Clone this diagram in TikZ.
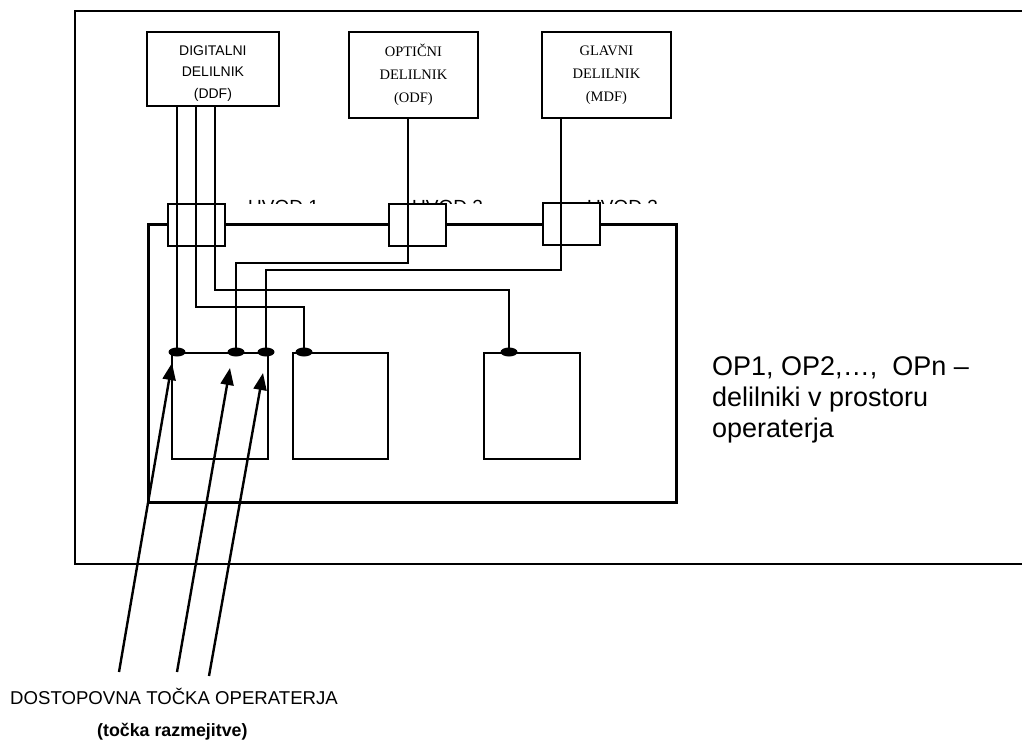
\documentclass[tikz,border=0pt]{standalone}
\usepackage{fontspec}
\setmainfont{Liberation Sans}
\newfontfamily\tnr{Liberation Serif}
\usetikzlibrary{arrows.meta,shapes.geometric}
\begin{document}
\begin{tikzpicture}[x=1pt,y=-1pt,
  topbox/.style={draw, line width=1.8pt, inner sep=0pt, align=center, anchor=north west},
  uvodbox/.style={draw, fill=white, line width=1.6pt, minimum width=57pt, minimum height=42pt, inner sep=0pt, anchor=north west},
  opbox/.style={draw, line width=1.8pt, minimum width=96pt, minimum height=106pt, anchor=north west, inner sep=0pt},
  wire/.style={line width=1.5pt},
  jdot/.style={ellipse, fill=black, minimum width=17pt, minimum height=9pt, inner sep=0pt},
  pointer/.style={line width=2.4pt, -{Triangle[length=17pt,width=13pt]}},
  lbl/.style={inner sep=0pt, font=\fontsize{19}{22}\selectfont}]
\useasboundingbox (0,0) rectangle (1022,742);
% outer frame
\draw[line width=2pt] (1022,11) -- (75,11) -- (75,564) -- (1022,564);
% top boxes
\node[topbox, minimum width=132pt, minimum height=74pt, font=\fontsize{14}{21.5}\selectfont] (ddf) at (146,31) {\rule{0pt}{19pt}DIGITALNI\\DELILNIK\\(DDF)};
\node[topbox, minimum width=129pt, minimum height=86pt, font=\tnr\fontsize{14.5}{23}\selectfont] (odf) at (348,31) {OPTIČNI\\DELILNIK\\(ODF)};
\node[topbox, minimum width=129pt, minimum height=86pt, font=\tnr\fontsize{14.5}{23}\selectfont] (mdf) at (541,31) {GLAVNI\\DELILNIK\\(MDF)};
% clipped UVOD labels
\begin{scope}
\clip (240,190) rectangle (680,203);
\node[lbl, anchor=base west] (l1) at (248,213) {UVOD 1};
\node[lbl, anchor=base west] (l2) at (412,213) {UVOD 2};
\node[lbl, anchor=base west] (l3) at (587,213) {UVOD 3};
\end{scope}
% operator room
\node[draw, line width=3.4pt, minimum width=528pt, minimum height=278pt, inner sep=0pt, anchor=north west] (room) at (147,223) {};
\node[uvodbox] (u1) at (167,203) {};
\node[uvodbox] (u2) at (388,203) {};
\node[uvodbox] (u3) at (542,202) {};
% operator distribution frames
\node[opbox] (op1) at (171,352) {};
\node[opbox, minimum width=95pt] (op2) at (292,352) {};
\node[opbox] (op3) at (483,352) {};
% junction points
\coordinate (p1) at (177,352);
\coordinate (p2) at (236,352);
\coordinate (p3) at (266,352);
\coordinate (p4) at (304,352);
\coordinate (p5) at (509,352);
% wires
\draw[wire] ([xshift=31pt]ddf.south west) -- (p1);
\draw[wire] ([xshift=50pt]ddf.south west) |- ([yshift=45pt]p4) -- (p4);
\draw[wire] ([xshift=69pt]ddf.south west) |- ([yshift=62pt]p5) -- (p5);
\draw[wire] ([xshift=60pt]odf.south west) |- ([yshift=89pt]p2) -- (p2);
\draw[wire] ([xshift=20pt]mdf.south west) |- ([yshift=82pt]p3) -- (p3);
\foreach \p in {p1,p2,p3,p4,p5} \node[jdot] (d\p) at (\p) {};
% right description
\node[anchor=north west, inner sep=0pt, align=left, font=\fontsize{27}{31}\selectfont] (desc) at (712,356) {OP1, OP2,…,\ \ OPn –\\delilniki v prostoru\\operaterja};
% access point arrows
\coordinate (t1) at (119,672);
\coordinate (t2) at (177,672);
\coordinate (t3) at (209,676);
\coordinate (h1) at (172,363);
\coordinate (h2) at (230,368);
\coordinate (h3) at (263,373);
\draw[pointer] (t1) -- (h1);
\draw[pointer] (t2) -- (h2);
\draw[pointer] (t3) -- (h3);
\node[anchor=base west, inner sep=0pt, font=\fontsize{18.6}{22}\selectfont] (acc) at (10,704) {DOSTOPOVNA TOČKA OPERATERJA};
\node[anchor=base west, inner sep=0pt, font=\bfseries\fontsize{17.8}{22}\selectfont] (raz) at (97,736) {(točka razmejitve)};
\end{tikzpicture}
\end{document}
